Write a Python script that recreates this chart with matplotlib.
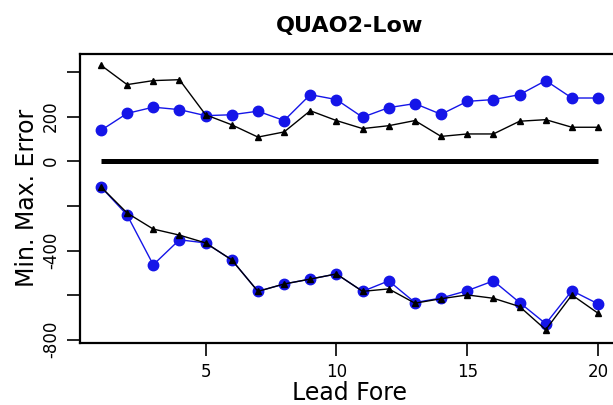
import numpy as np
import matplotlib.pyplot as plt

lead = np.arange(1, 21)

# upper envelope (max errors)
max_tri = [430, 343, 361, 365, 208, 163, 108, 131, 226, 182,
           146, 159, 182, 111, 122, 122, 179, 186, 152, 152]
max_dot = [138, 214, 242, 231, 204, 208, 224, 182, 298, 276,
           197, 240, 258, 210, 268, 276, 298, 361, 283, 283]

# lower envelope (min errors)
min_tri = [-115, -232, -304, -331, -366, -442, -583, -550, -528, -505,
           -583, -572, -636, -616, -599, -614, -651, -755, -599, -681]
min_dot = [-115, -241, -464, -352, -366, -442, -583, -550, -528, -505,
           -583, -536, -633, -613, -580, -536, -633, -728, -580, -639]

yticks = [400, 200, 0, -200, -400, -600, -800]
ytick_labels = ['', '200', '0', '', '-400', '', '-800']
xticks = [5, 10, 15, 20]

blue = '#1515e8'

fig = plt.figure(figsize=(6.13, 4.05), dpi=100)
ax = fig.add_axes([0.1305, 0.1538, 0.8793, 0.7128])

ax.plot(lead, [0] * len(lead), color='black', linewidth=3.6, solid_capstyle='butt')

ax.plot(lead, max_dot, color=blue, linewidth=1.0, marker='o', markersize=7.5)
ax.plot(lead, min_dot, color=blue, linewidth=1.0, marker='o', markersize=7.5)
ax.plot(lead, max_tri, color='black', linewidth=1.0, marker='^', markersize=5)
ax.plot(lead, min_tri, color='black', linewidth=1.0, marker='^', markersize=5)

ax.set_xlim(0.2, 20.8)
ax.set_ylim(-813, 480)
ax.set_xticks(xticks)
ax.set_xticklabels([str(t) for t in xticks], fontsize=12)
ax.set_yticks(yticks)
ax.set_yticklabels(ytick_labels, fontsize=12, rotation=90, va='center')
ax.tick_params(length=9.5, width=1.2, pad=5)

for s in ax.spines.values():
    s.set_linewidth(1.6)

ax.set_xlabel('Lead Fore', fontsize=17, labelpad=0)
ax.set_ylabel('Min. Max. Error', fontsize=17, labelpad=2)
ax.set_title('QUAO2-Low', fontsize=16, fontweight='bold', pad=16)

fig.savefig('out.png', dpi=100)
